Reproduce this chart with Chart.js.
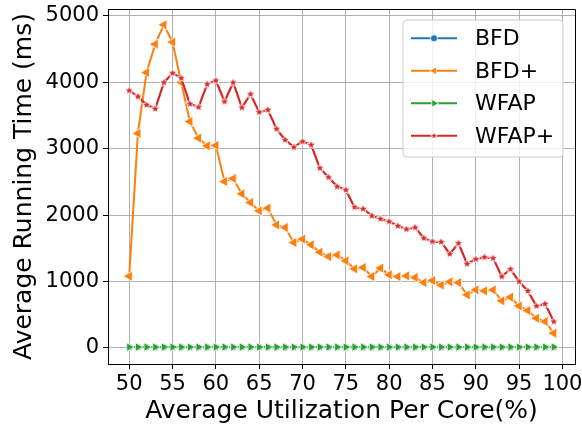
<!DOCTYPE html>
<html><head><meta charset="utf-8">
<script src="https://cdn.jsdelivr.net/npm/chart.js@4.4.0/dist/chart.umd.min.js"></script>
<style>html,body{margin:0;padding:0;background:#fff;} #wrap{width:582px;height:427px;}</style>
</head><body><div id="wrap"><canvas id="c" width="582" height="427"></canvas></div>
<script>
const utilization = [50,51,52,53,54,55,56,57,58,59,60,61,62,63,64,65,66,67,68,69,70,71,72,73,74,75,76,77,78,79,80,81,82,83,84,85,86,87,88,89,90,91,92,93,94,95,96,97,98,99];
const bfd = [8,8,8,8,8,8,8,8,8,8,8,8,8,8,8,8,8,8,8,8,8,8,8,8,8,8,8,8,8,8,8,8,8,8,8,8,8,8,8,8,8,8,8,8,8,8,8,8,8,8];
const bfdPlus = [1080,3230,4146,4573,4864,4603,4000,3408,3158,3042,3047,2505,2550,2319,2188,2063,2104,1852,1812,1586,1637,1551,1441,1375,1400,1310,1190,1210,1074,1200,1100,1074,1084,1059,983,1014,945,995,983,798,873,858,873,708,763,632,562,447,396,221];
const wfap = [12,12,12,12,12,12,12,12,12,12,12,12,12,12,12,12,12,12,12,12,12,12,12,12,12,12,12,12,12,12,12,12,12,12,12,12,12,12,12,12,12,12,12,12,12,12,12,12,12,12];
const wfapPlus = [3875,3785,3660,3600,3996,4137,4062,3675,3625,3971,4026,3710,3996,3619,3821,3550,3584,3298,3132,3022,3107,3057,2706,2570,2429,2379,2119,2093,1988,1943,1902,1837,1787,1812,1652,1601,1596,1415,1576,1265,1336,1366,1351,1074,1185,999,858,632,663,396];
const xTicks = [50,55,60,65,70,75,80,85,90,95,100];
const yTicks = [0,1000,2000,3000,4000,5000];
const seriesNames = ['BFD','BFD+','WFAP','WFAP+'];
const colors = ['#1f77b4','#ff7f0e','#2ca02c','#d62728'];

function makeStar(color, rOuter, rInner, edge) {
  const s = Math.ceil((rOuter + edge) * 2) + 2;
  const c = document.createElement('canvas'); c.width = s; c.height = s;
  const g = c.getContext('2d');
  g.translate(s / 2, s / 2);
  g.beginPath();
  for (let i = 0; i < 10; i++) {
    const r = i % 2 === 0 ? rOuter : rInner;
    const a = -Math.PI / 2 + i * Math.PI / 5;
    g.lineTo(r * Math.cos(a), r * Math.sin(a));
  }
  g.closePath();
  g.strokeStyle = '#fff'; g.lineWidth = edge * 2; g.lineJoin = 'round'; g.stroke();
  g.fillStyle = color; g.fill();
  return c;
}
const starImg = makeStar(colors[3], 3.8, 1.6, 0.8);
const starImgLegend = makeStar(colors[3], 3.0, 1.3, 0.8);

const pts = arr => utilization.map((x, i) => ({x: x, y: arr[i]}));
const seriesData = [bfd, bfdPlus, wfap, wfapPlus];
const markerStyles = [
  {pointStyle: 'circle', pointRadius: 3.5, rotation: 0},
  {pointStyle: 'triangle', pointRadius: 6, rotation: 270},
  {pointStyle: 'triangle', pointRadius: 5, rotation: 90},
  {pointStyle: starImg, pointRadius: 4, rotation: 0}
];

const datasets = seriesNames.map((name, i) => ({
  label: name,
  data: pts(seriesData[i]),
  borderColor: colors[i],
  backgroundColor: colors[i],
  borderWidth: i === 3 ? 2.2 : 2,
  pointStyle: markerStyles[i].pointStyle,
  pointRadius: markerStyles[i].pointRadius,
  pointRotation: markerStyles[i].rotation,
  pointBackgroundColor: colors[i],
  pointBorderColor: '#ffffff',
  pointBorderWidth: 0.8,
  tension: 0,
  order: 3 - i
}));

function align(p) { return Math.round(p - 0.5) + 0.5; }

const mplPlugin = {
  id: 'mplDecor',
  afterDraw(chart) {
    const ctx = chart.ctx, ca = chart.chartArea;
    ctx.save();
    ctx.strokeStyle = '#000'; ctx.lineWidth = 1;
    ctx.beginPath();
    ctx.moveTo(align(ca.left), align(ca.top)); ctx.lineTo(align(ca.right), align(ca.top));
    ctx.lineTo(align(ca.right), align(ca.bottom));
    ctx.stroke();
    // legend
    const bx = ca.right - 172, by = ca.top + 11, bw = 160, bh = 137, r = 4;
    ctx.beginPath();
    ctx.moveTo(bx + r, by); ctx.lineTo(bx + bw - r, by); ctx.arcTo(bx + bw, by, bx + bw, by + r, r);
    ctx.lineTo(bx + bw, by + bh - r); ctx.arcTo(bx + bw, by + bh, bx + bw - r, by + bh, r);
    ctx.lineTo(bx + r, by + bh); ctx.arcTo(bx, by + bh, bx, by + bh - r, r);
    ctx.lineTo(bx, by + r); ctx.arcTo(bx, by, bx + r, by, r);
    ctx.closePath();
    ctx.fillStyle = 'rgba(255,255,255,0.8)'; ctx.fill();
    ctx.strokeStyle = '#cccccc'; ctx.lineWidth = 1; ctx.stroke();
    seriesNames.forEach((name, i) => {
      const y = by + 18.3 + i * 32.5;
      const x0 = bx + 8, x1 = bx + 54, xm = (x0 + x1) / 2;
      ctx.strokeStyle = colors[i]; ctx.lineWidth = 2;
      ctx.beginPath(); ctx.moveTo(x0, y); ctx.lineTo(x1, y); ctx.stroke();
      ctx.fillStyle = colors[i]; ctx.strokeStyle = '#fff'; ctx.lineWidth = 0.8;
      if (i === 0) {
        ctx.beginPath(); ctx.arc(xm, y, 3.5, 0, Math.PI * 2); ctx.fill(); ctx.stroke();
      } else if (i === 1 || i === 2) {
        const rr = 4.5, dir = i === 1 ? -1 : 1;
        ctx.beginPath();
        ctx.moveTo(xm + dir * rr, y);
        ctx.lineTo(xm - dir * rr / 2, y - rr * Math.sqrt(3) / 2);
        ctx.lineTo(xm - dir * rr / 2, y + rr * Math.sqrt(3) / 2);
        ctx.closePath(); ctx.fill(); ctx.stroke();
      } else {
        ctx.drawImage(starImgLegend, xm - starImgLegend.width / 2, y - starImgLegend.height / 2);
      }
      ctx.fillStyle = '#000'; ctx.font = '22px "DejaVu Sans"';
      ctx.textBaseline = 'middle'; ctx.textAlign = 'left';
      ctx.fillText(name, bx + 72, y + 1);
    });
    ctx.restore();
  }
};

const tickFont = {family: 'DejaVu Sans', size: 21};
const titleFont = {family: 'DejaVu Sans', size: 25};

new Chart(document.getElementById('c'), {
  type: 'line',
  data: {datasets: datasets},
  plugins: [mplPlugin],
  options: {
    responsive: false, animation: false, devicePixelRatio: 1,
    layout: {padding: {top: 9, right: 7, left: 0, bottom: 0}},
    plugins: {legend: {display: false}, tooltip: {enabled: false}},
    scales: {
      x: {
        type: 'linear', min: 47.55, max: 101.45,
        afterBuildTicks: s => { s.ticks = xTicks.map(v => ({value: v})); },
        afterFit: s => { s.height = 63; s.paddingLeft = 0; s.paddingRight = 0; },
        ticks: {callback: v => String(v), color: '#000', font: tickFont, padding: 3, maxRotation: 0, autoSkip: false},
        grid: {color: '#b0b0b0', lineWidth: 1, tickLength: 5, tickColor: '#000', tickWidth: 1},
        border: {color: '#000', width: 1},
        title: {display: true, text: 'Average Utilization Per Core(%)', color: '#000', font: titleFont, padding: {top: 0, bottom: 1}}
      },
      y: {
        type: 'linear', min: -243, max: 5103,
        afterBuildTicks: s => { s.ticks = yTicks.map(v => ({value: v})); },
        afterFit: s => { s.width = 108; s.paddingTop = 0; s.paddingBottom = 0; },
        ticks: {callback: v => String(v), color: '#000', font: tickFont, padding: 4, autoSkip: false},
        grid: {color: '#b0b0b0', lineWidth: 1, tickLength: 5, tickColor: '#000', tickWidth: 1},
        border: {color: '#000', width: 1},
        title: {display: true, text: 'Average Running Time (ms)', color: '#000', font: titleFont, padding: {top: 9, bottom: 0}}
      }
    }
  }
});
</script></body></html>
